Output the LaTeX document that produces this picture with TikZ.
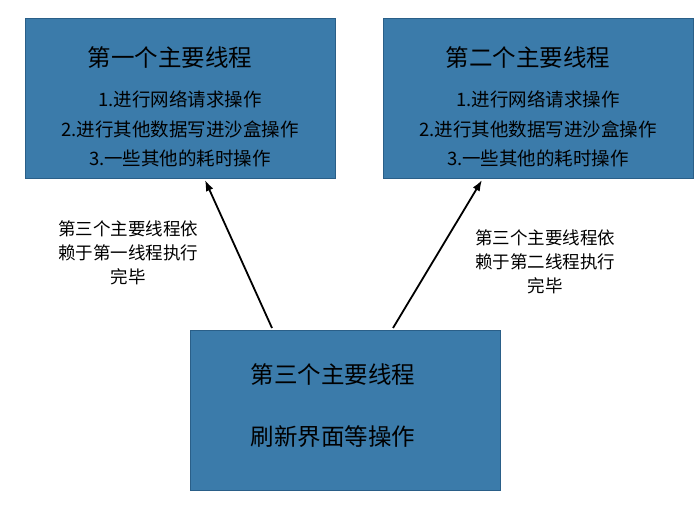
\documentclass[tikz,border=0pt]{standalone}
\usepackage{fontspec}
\setmainfont{Noto Sans CJK SC}
\usetikzlibrary{positioning,arrows.meta}
\definecolor{boxblue}{HTML}{3B7BAA}
\definecolor{boxedge}{HTML}{2A5F88}
\tikzset{
  task/.style={draw=boxedge, fill=boxblue, minimum width=310pt, minimum height=160pt, anchor=north west},
  title/.style={font=\fontsize{23.5pt}{26pt}\selectfont},
  item/.style={font=\fontsize{18.5pt}{21pt}\selectfont},
  note/.style={align=center, font=\fontsize{17.5pt}{24pt}\selectfont},
  dep/.style={-{Latex[length=11pt,width=8pt]}, line width=1.8pt}
}
\begin{document}
\begin{tikzpicture}[x=1pt, y=-1pt]
  \useasboundingbox (0,0) rectangle (700,510);
  % three thread boxes
  \node[task] (first) at (25,18) {};
  \node[task] (second) at (383,18) {};
  \node[task] (third) at (190,330) {};
  % first thread
  \node[title] at (170,58) {第一个主要线程};
  \node[item] at (180,99) {1.进行网络请求操作};
  \node[item] at (180,129) {2.进行其他数据写进沙盒操作};
  \node[item] at (180,158) {3.一些其他的耗时操作};
  % second thread
  \node[title] at (528,58) {第二个主要线程};
  \node[item] at (538,99) {1.进行网络请求操作};
  \node[item] at (538,129) {2.进行其他数据写进沙盒操作};
  \node[item] at (538,158) {3.一些其他的耗时操作};
  % third thread
  \node[title] at (333,375) {第三个主要线程};
  \node[title] at (333,437) {刷新界面等操作};
  % dependencies
  \coordinate (fromL) at (272,328);
  \coordinate (fromR) at (393,328);
  \coordinate (toL) at (205,180);
  \coordinate (toR) at (482,180);
  \draw[dep] (fromL) -- (toL);
  \draw[dep] (fromR) -- (toR);
  \node[note] (noteL) at (128,253) {第三个主要线程依\\赖于第一线程执行\\完毕};
  \node[note] (noteR) at (545,262) {第三个主要线程依\\赖于第二线程执行\\完毕};
\end{tikzpicture}
\end{document}
